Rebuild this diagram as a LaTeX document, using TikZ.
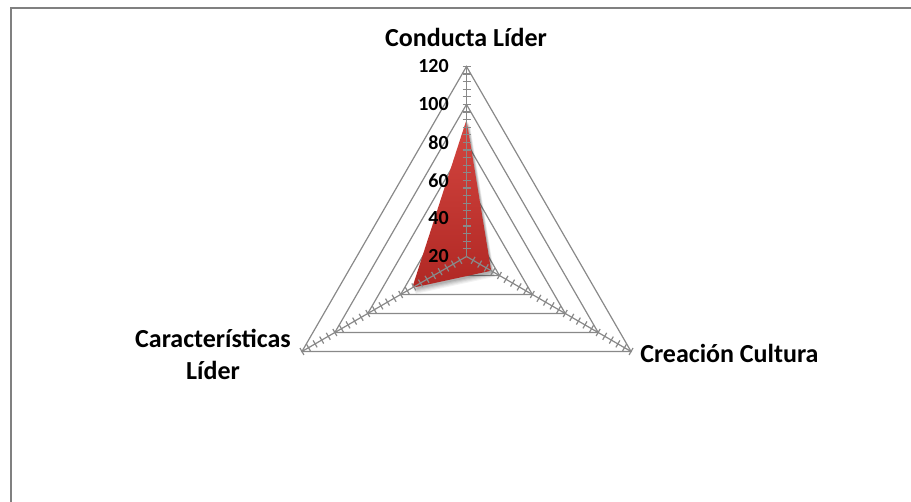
\documentclass[tikz,border=0pt]{standalone}
\usepackage{fontspec}
\setmainfont{Carlito}
\usetikzlibrary{calc}
\definecolor{framegray}{RGB}{128,128,128}
\definecolor{gridgray}{RGB}{137,137,137}
\definecolor{redlight}{RGB}{212,70,64}
\definecolor{reddark}{RGB}{176,40,36}
\tikzset{
  chartframe/.style={draw=framegray, line width=1.5pt},
  ring/.style={draw=gridgray, line width=0.9pt, line join=miter},
  axisline/.style={draw=gridgray, line width=0.9pt},
  tickmark/.style={draw=gridgray, line width=0.9pt},
  series/.style={top color=redlight, bottom color=reddark, draw=none},
  seriesshadow/.style={fill=black, fill opacity=#1, draw=none},
  catlabel/.style={font=\bfseries\fontsize{19.5}{24}\selectfont, inner sep=0pt},
  vallabel/.style={font=\bfseries\fontsize{15}{17}\selectfont, inner sep=0pt, anchor=east}
}
\begin{document}
\begin{tikzpicture}[x=0.75pt,y=0.75pt]
\useasboundingbox (0,0) rectangle (911,502);
% chart area frame (top and left edges inside the page)
\draw[chartframe] (10.5,-10) -- (10.5,493.5) -- (925,493.5);

\coordinate (O) at (466.5,245.5);
\begin{scope}[shift={(O)}]
  % axis end points
  \coordinate (A1) at (90:190);
  \coordinate (A2) at (330:190);
  \coordinate (A3) at (210:190);
  % grid triangles, every 20 from 40 to 120
  \foreach \k in {1,...,5}{
    \draw[ring] (90:\k*38) -- (330:\k*38) -- (210:\k*38) -- cycle;
  }
  % series: soft shadow, then the filled polygon
  \foreach \s/\o in {6/0.05,5/0.06,4/0.07,3/0.08,2/0.09}{
    \fill[seriesshadow=\o] ($(90:136.8)+(\s*0.6,-\s)$) -- ($(330:28.5)+(\s*0.6,-\s)$) -- ($(210:62.7)+(\s*0.6,-\s)$) -- cycle;
  }
  \path[series] (90:136.8) coordinate (P1) -- (330:28.5) coordinate (P2) -- (210:62.7) coordinate (P3) -- cycle;
\end{scope}

% axes
\draw[axisline] (O) -- (A1);
\draw[axisline] (O) -- (A2);
\draw[axisline] (O) -- (A3);
% tick marks every 4 units
\begin{scope}[shift={(O)}]
  \foreach \a in {90,210,330}{
    \foreach \k in {1,...,25}{
      \draw[tickmark] (\a:\k*7.6) ++(\a+90:4) -- ++(\a-90:8);
    }
  }
\end{scope}

% value labels
\foreach \v [count=\k from 0] in {20,40,60,80,100,120}{
  \node[vallabel] (v\v) at (449,245.5+\k*38) {\v};
}

% category labels
\node[catlabel, anchor=base] (c1) at (466,455.3) {Conducta Líder};
\node[catlabel, anchor=base west] (c2) at (640,139) {Creación Cultura};
\node[catlabel, anchor=base, align=center] (c3) at (213,122) {Características\\Líder};
\end{tikzpicture}
\end{document}
